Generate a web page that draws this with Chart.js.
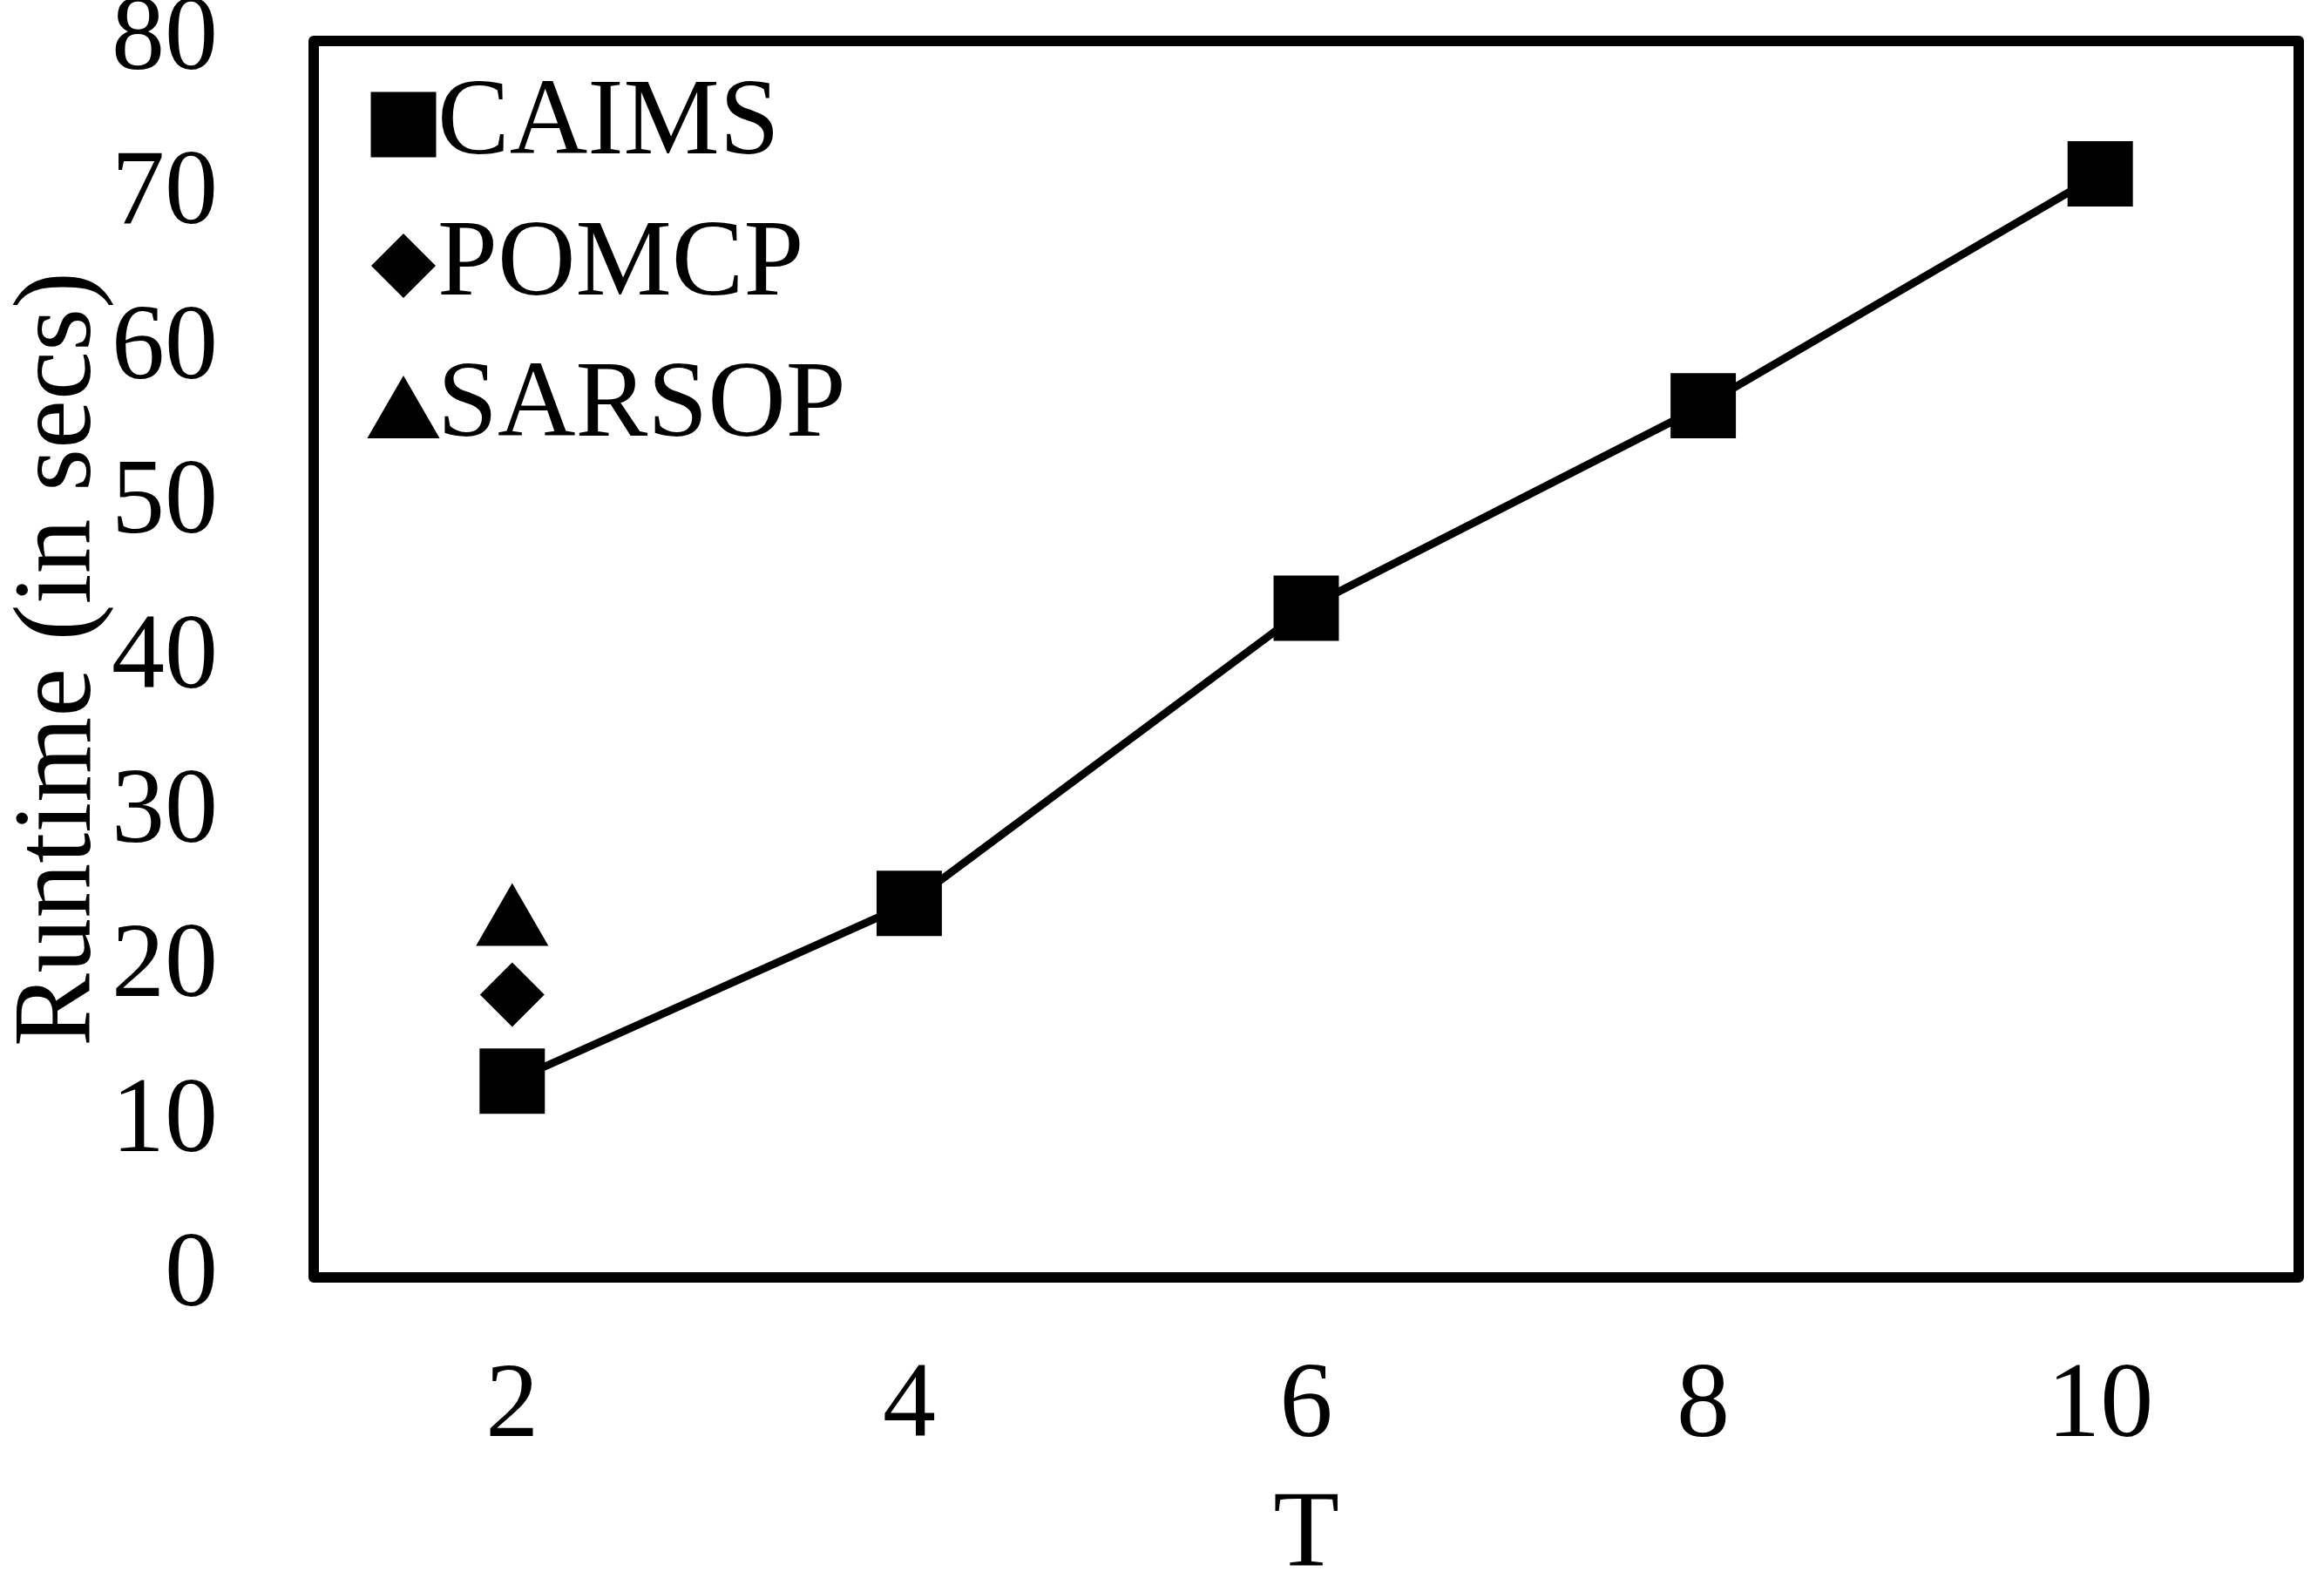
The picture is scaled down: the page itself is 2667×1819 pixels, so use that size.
<!DOCTYPE html>
<html>
<head>
<meta charset="utf-8">
<script src="https://cdn.jsdelivr.net/npm/chart.js@4/dist/chart.umd.min.js"></script>
<style>
  html, body { margin: 0; padding: 0; background: #fff; overflow: hidden; }
  #chart { display: block; }
</style>
</head>
<body>
<canvas id="chart" width="2667" height="1819" style="width:2667px;height:1819px"></canvas>
<script>
// data
const tValues = ["2", "4", "6", "8", "10"];
const caims = [12.7, 24.2, 43.3, 56.4, 71.4];
const pomcp = [18.3, null, null, null, null];
const sarsop = [22.8, null, null, null, null];
const yTicks = [0, 10, 20, 30, 40, 50, 60, 70, 80];

const serif = "'Liberation Serif', 'Times New Roman', Times, Tinos, serif";
const noPad = () => ({ left: 0, right: 0, top: 0, bottom: 0 });

// thick box around the plot area
const frame = {
    id: "frame",
    afterDraw(chart) {
        const a = chart.chartArea;
        const ctx = chart.ctx;
        ctx.save();
        ctx.strokeStyle = "#000";
        ctx.lineWidth = 12;
        ctx.lineJoin = "round";
        ctx.strokeRect(a.left, a.top, a.right - a.left, a.bottom - a.top);
        ctx.restore();
    }
};

// fallback if helpers are not exposed
function markerPath(ctx, style, r, x, y) {
    ctx.beginPath();
    if (style === "rect") {
        const s = Math.SQRT1_2 * r;
        ctx.rect(x - s, y - s, 2 * s, 2 * s);
    } else if (style === "rectRot") {
        ctx.moveTo(x, y - r); ctx.lineTo(x + r, y); ctx.lineTo(x, y + r); ctx.lineTo(x - r, y);
    } else {
        for (let i = 0; i < 3; i++) {
            const ang = i * 2 * Math.PI / 3;
            const px = x + Math.sin(ang) * r, py = y - Math.cos(ang) * r;
            i ? ctx.lineTo(px, py) : ctx.moveTo(px, py);
        }
    }
    ctx.closePath();
    ctx.fill();
}

// legend inside the plot, top-left
const innerLegend = {
    id: "innerLegend",
    afterDraw(chart) {
        const a = chart.chartArea;
        const ctx = chart.ctx;
        const x0 = a.left + 103;
        const y0 = a.top + 96;
        ctx.save();
        chart.data.datasets.forEach((ds, i) => {
            const y = y0 + i * 162;
            const shift = ds.pointStyle === "triangle" ? ds.pointRadius / 4 : 0;
            ctx.fillStyle = "#000";
            ctx.strokeStyle = "#000";
            if (Chart.helpers && Chart.helpers.drawPoint) {
                Chart.helpers.drawPoint(ctx, {
                    pointStyle: ds.pointStyle, radius: ds.pointRadius,
                    rotation: 0, borderWidth: 0
                }, x0, y + shift);
            } else {
                markerPath(ctx, ds.pointStyle, ds.pointRadius, x0, y + shift);
            }
            ctx.font = "124px " + serif;
            ctx.textAlign = "left";
            ctx.textBaseline = "middle";
            ctx.fillText(ds.label, x0 + 39, y);
        });
        ctx.restore();
    }
};

function draw() {
    new Chart(document.getElementById("chart"), {
        type: "line",
        data: {
            labels: tValues,
            datasets: [
                {
                    label: "CAIMS", data: caims,
                    borderColor: "#000", backgroundColor: "#000", borderWidth: 9,
                    pointStyle: "rect", pointRadius: 53,
                    pointBackgroundColor: "#000", pointBorderColor: "#000", pointBorderWidth: 0,
                    tension: 0
                },
                {
                    label: "POMCP", data: pomcp, showLine: false,
                    borderColor: "#000", backgroundColor: "#000",
                    pointStyle: "rectRot", pointRadius: 37,
                    pointBackgroundColor: "#000", pointBorderColor: "#000", pointBorderWidth: 0
                },
                {
                    label: "SARSOP", data: sarsop, showLine: false,
                    borderColor: "#000", backgroundColor: "#000",
                    pointStyle: "triangle", pointRadius: 48,
                    pointBackgroundColor: "#000", pointBorderColor: "#000", pointBorderWidth: 0
                }
            ]
        },
        options: {
            responsive: false,
            devicePixelRatio: 1,
            animation: false,
            events: [],
            layout: { autoPadding: false, padding: { top: 47, right: 29, bottom: 5, left: 20 } },
            plugins: {
                legend: { display: false },
                tooltip: { enabled: false }
            },
            scales: {
                x: {
                    offset: true,
                    grid: { display: false, drawTicks: false },
                    border: { display: false },
                    ticks: { color: "#000", padding: 77, font: { family: serif, size: 122, lineHeight: 1.2 } },
                    title: {
                        display: true, text: "T", color: "#000", padding: 0,
                        font: { family: serif, size: 124, lineHeight: 0.8 }
                    },
                    afterFit(scale) {
                        scale.height = 348;
                        scale.paddingLeft = 0;
                        scale.paddingRight = 0;
                        scale.getPadding = noPad;
                    }
                },
                y: {
                    min: 0, max: 80,
                    afterBuildTicks(scale) { scale.ticks = yTicks.map(v => ({ value: v })); },
                    grid: { display: false, drawTicks: false },
                    border: { display: false },
                    ticks: { color: "#000", padding: 110, font: { family: serif, size: 122, lineHeight: 1.2 } },
                    title: {
                        display: true, text: "Runtime (in secs)", color: "#000", padding: 0,
                        font: { family: serif, size: 126, lineHeight: 0.8 }
                    },
                    afterFit(scale) {
                        scale.width = 340;
                        scale.paddingTop = 0;
                        scale.paddingBottom = 0;
                        scale.getPadding = noPad;
                    }
                }
            }
        },
        plugins: [frame, innerLegend]
    });
}

if (document.fonts && document.fonts.load) {
    Promise.all([
        document.fonts.load("120px 'Liberation Serif'"),
        document.fonts.load("120px 'Times New Roman'")
    ]).then(draw, draw);
} else {
    draw();
}
</script>
</body>
</html>
